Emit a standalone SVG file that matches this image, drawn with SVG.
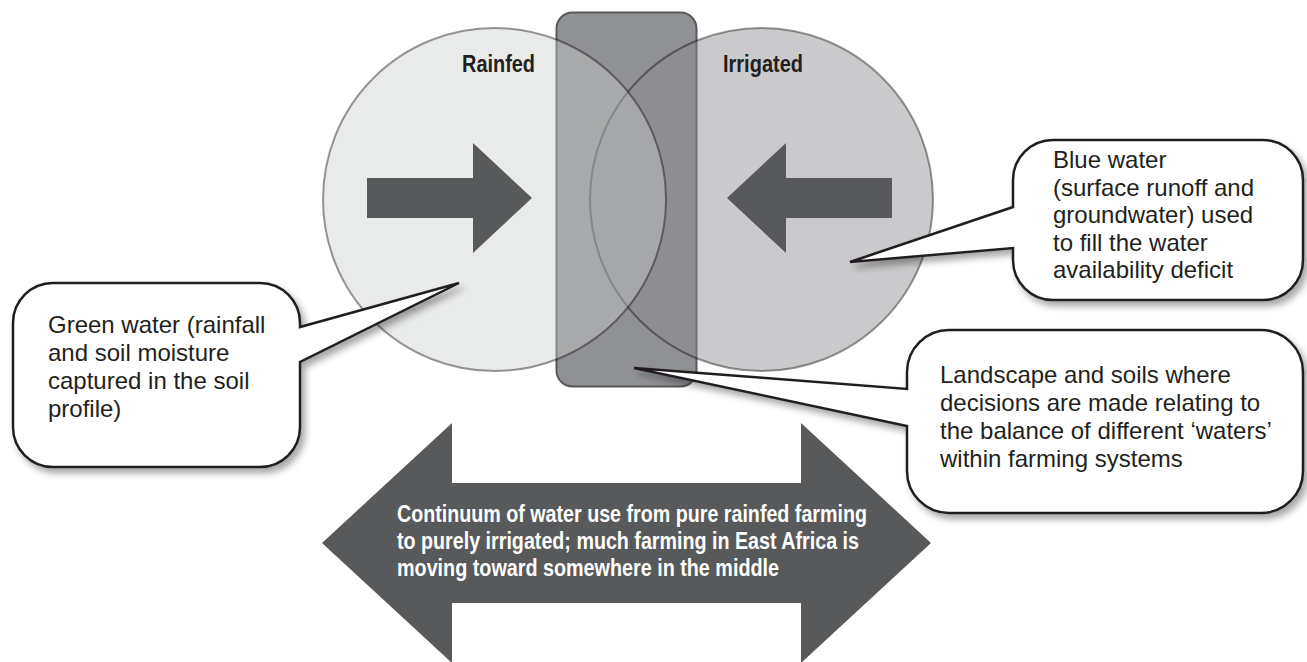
<svg xmlns="http://www.w3.org/2000/svg" width="1307" height="662" viewBox="0 0 1307 662">
  <defs>
    <filter id="shadow" x="-10%" y="-10%" width="125%" height="130%">
      <feDropShadow dx="4" dy="5" stdDeviation="3.5" flood-color="#000" flood-opacity="0.35"/>
    </filter>
  </defs>
  <style>
    .callout { fill: #ffffff; stroke: #231f20; stroke-width: 2.5; stroke-linejoin: miter; filter: url(#shadow); }
    .body { font-family: "Liberation Sans", Arial, sans-serif; font-size: 24px; fill: #231f20; }
    .head { font-family: "Liberation Sans Narrow", "Liberation Sans", Arial, sans-serif; font-weight: bold; font-size: 24px; fill: #231f20; }
    .arrowtext { font-family: "Liberation Sans Narrow", "Liberation Sans", Arial, sans-serif; font-weight: bold; font-size: 23.5px; fill: #ffffff; }
    .darkarrow { fill: #58595b; }
  </style>
  <rect width="1307" height="662" fill="#ffffff"/>

  <g id="middle-zone">
    <rect x="556.5" y="12.5" width="140" height="374" rx="16" ry="16" fill="#909194" stroke="#58595b" stroke-width="2"/>
  </g>
  <g id="irrigated">
    <circle cx="761.5" cy="199.5" r="171.5" fill="#8b8c8f" fill-opacity="0.46" stroke="#000" stroke-opacity="0.4" stroke-width="2"/>
    <text class="head" x="723" y="72" textLength="80" lengthAdjust="spacingAndGlyphs">Irrigated</text>
  </g>
  <g id="rainfed">
    <circle cx="494.5" cy="199.5" r="171.5" fill="#cacbcd" fill-opacity="0.41" stroke="#000" stroke-opacity="0.4" stroke-width="2"/>
    <text class="head" x="462" y="72" textLength="73" lengthAdjust="spacingAndGlyphs">Rainfed</text>
  </g>

  <g id="connectors">
    <polygon class="darkarrow" points="367,178 473,178 473,143 532,198 473,253 473,218 367,218"/>
    <polygon class="darkarrow" points="892,178 786,178 786,143 727,198 786,253 786,218 892,218"/>
  </g>

  <g id="continuum-arrow">
    <polygon class="darkarrow" points="322,543 452,423 452,483 801,483 801,423 931,543 801,663 801,603 452,603 452,663"/>
    <text class="arrowtext" x="397" y="522" textLength="470" lengthAdjust="spacingAndGlyphs">Continuum of water use from pure rainfed farming</text>
    <text class="arrowtext" x="397" y="549" textLength="462" lengthAdjust="spacingAndGlyphs">to purely irrigated; much farming in East Africa is</text>
    <text class="arrowtext" x="397" y="576" textLength="382" lengthAdjust="spacingAndGlyphs">moving toward somewhere in the middle</text>
  </g>

  <g id="green-water">
    <path class="callout" d="M53,283 H260 A40,40 0 0 1 300,323 V327 L459,283 L300,362 V427 A40,40 0 0 1 260,467 H53 A40,40 0 0 1 13,427 V323 A40,40 0 0 1 53,283 Z"/>
    <text class="body" x="48" y="333">Green water (rainfall</text>
    <text class="body" x="48" y="361">and soil moisture</text>
    <text class="body" x="48" y="389">captured in the soil</text>
    <text class="body" x="48" y="417">profile)</text>
  </g>

  <g id="blue-water">
    <path class="callout" d="M1053,140 H1263 A40,40 0 0 1 1303,180 V260 A40,40 0 0 1 1263,300 H1053 A40,40 0 0 1 1013,260 V248 L850,262 L1013,207 V180 A40,40 0 0 1 1053,140 Z"/>
    <text class="body" x="1053" y="168">Blue water</text>
    <text class="body" x="1053" y="195.5">(surface runoff and</text>
    <text class="body" x="1053" y="223">groundwater) used</text>
    <text class="body" x="1053" y="250.5">to fill the water</text>
    <text class="body" x="1053" y="278">availability deficit</text>
  </g>

  <g id="landscape">
    <path class="callout" d="M949,330 H1261 A42,42 0 0 1 1303,372 V471 A42,42 0 0 1 1261,513 H949 A42,42 0 0 1 907,471 V426 L634,368 L907,389 V372 A42,42 0 0 1 949,330 Z"/>
    <text class="body" x="940" y="383">Landscape and soils where</text>
    <text class="body" x="940" y="411">decisions are made relating to</text>
    <text class="body" x="940" y="439">the balance of different ‘waters’</text>
    <text class="body" x="940" y="467">within farming systems</text>
  </g>
</svg>
